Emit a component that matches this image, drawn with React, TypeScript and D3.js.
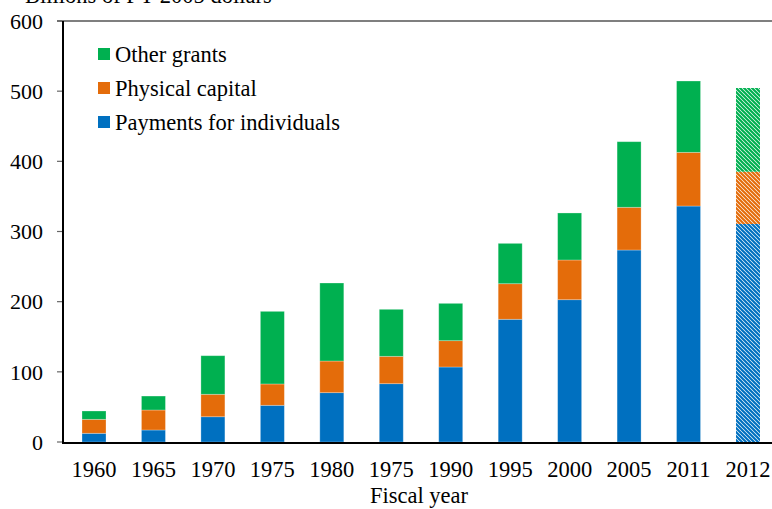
import React from "react";
import * as d3 from "d3";

const categories = ["1960", "1965", "1970", "1975", "1980", "1975", "1990", "1995", "2000", "2005", "2011", "2012"];
const payments = [12.4, 17.1, 36, 52.3, 70.3, 83.1, 106.9, 174.9, 202.8, 273.6, 336.3, 310.7];
const physical = [19.9, 28.5, 32, 30.4, 45.1, 39, 37.5, 50.7, 56.6, 60.9, 76.5, 74.5];
const other = [11.9, 19.9, 55, 103.5, 111.2, 67, 53.2, 57.5, 67, 93.5, 101.7, 119.3];
const projectedIndex = [11];
const yTicks = [0, 100, 200, 300, 400, 500, 600];
const seriesNames = ["Payments for individuals", "Physical capital", "Other grants"];
const seriesColors = ["#0070C0", "#E46C0A", "#00B050"];

const W = 772;
const H = 509;
const FONT = "'Liberation Serif', 'Times New Roman', serif";
const FS = 22.5;

export default function App() {
  const x = d3
    .scaleBand<number>()
    .domain(categories.map((_, i) => i))
    .range([62, 780])
    .paddingInner(0.5963)
    .paddingOuter(0.3364);
  const y = d3.scaleLinear().domain([0, 600]).range([442, 21]);

  const rows = categories.map((c, i) => ({
    idx: i,
    payments: payments[i],
    physical: physical[i],
    other: other[i],
  }));
  const keys = ["payments", "physical", "other"];
  const stack = d3.stack<any>().keys(keys)(rows);

  return (
    <svg width={W} height={H} style={{ position: "absolute", left: 0, top: 0, background: "#fff" }}>
      <defs>
        {seriesColors.map((c, k) => (
          <pattern key={k} id={`hatch${k}`} width={4} height={4} patternUnits="userSpaceOnUse">
            <rect width={4} height={4} fill="#fff" />
            <path d="M-1,-1 L5,5 M-1,3 L1,5 M3,-1 L5,1" stroke={c} strokeWidth={2.2} />
          </pattern>
        ))}
      </defs>
      <text x={25} y={3} fontFamily={FONT} fontSize={FS} fill="#000">
        Billions of FY 2005 dollars
      </text>
      {/* top frame line */}
      <line x1={57} x2={W} y1={y(600)} y2={y(600)} stroke="#555" strokeWidth={1.3} />
      {/* y ticks */}
      {yTicks.map((t) => (
        <g key={t}>
          <line x1={57} x2={62} y1={y(t)} y2={y(t)} stroke="#666" strokeWidth={1.2} />
          <text x={43} y={y(t)} dy="0.35em" textAnchor="end" fontFamily={FONT} fontSize={22} fill="#000">
            {t}
          </text>
        </g>
      ))}
      {/* bars */}
      {stack.map((layer, k) =>
        layer.map((d, i) => {
          const proj = projectedIndex.includes(i);
          return (
            <rect
              key={`${k}-${i}`}
              x={x(i)}
              width={x.bandwidth()}
              y={y(d[1])}
              height={y(d[0]) - y(d[1])}
              fill={proj ? `url(#hatch${k})` : seriesColors[k]}
              stroke={proj ? "none" : "rgba(255,255,255,0.35)"}
              strokeWidth={0.8}
            />
          );
        })
      )}
      {/* axes */}
      <line x1={63} x2={63} y1={y(600)} y2={444} stroke="#000" strokeWidth={2} />
      <line x1={62} x2={W} y1={443} y2={443} stroke="#000" strokeWidth={2.2} />
      {/* x labels */}
      {categories.map((c, i) => (
        <text
          key={i}
          x={(x(i) as number) + x.bandwidth() / 2}
          y={477}
          textAnchor="middle"
          fontFamily={FONT}
          fontSize={FS}
          fill="#000"
        >
          {c}
        </text>
      ))}
      <text x={419} y={503} textAnchor="middle" fontFamily={FONT} fontSize={FS} fill="#000">
        Fiscal year
      </text>
      {/* legend */}
      {[2, 1, 0].map((k, j) => (
        <g key={k} transform={`translate(98, ${54 + j * 34})`}>
          <rect x={0} y={-6} width={12} height={12} fill={seriesColors[k]} />
          <text x={17} y={0} dy="0.35em" fontFamily={FONT} fontSize={FS} fill="#000">
            {seriesNames[k]}
          </text>
        </g>
      ))}
    </svg>
  );
}
